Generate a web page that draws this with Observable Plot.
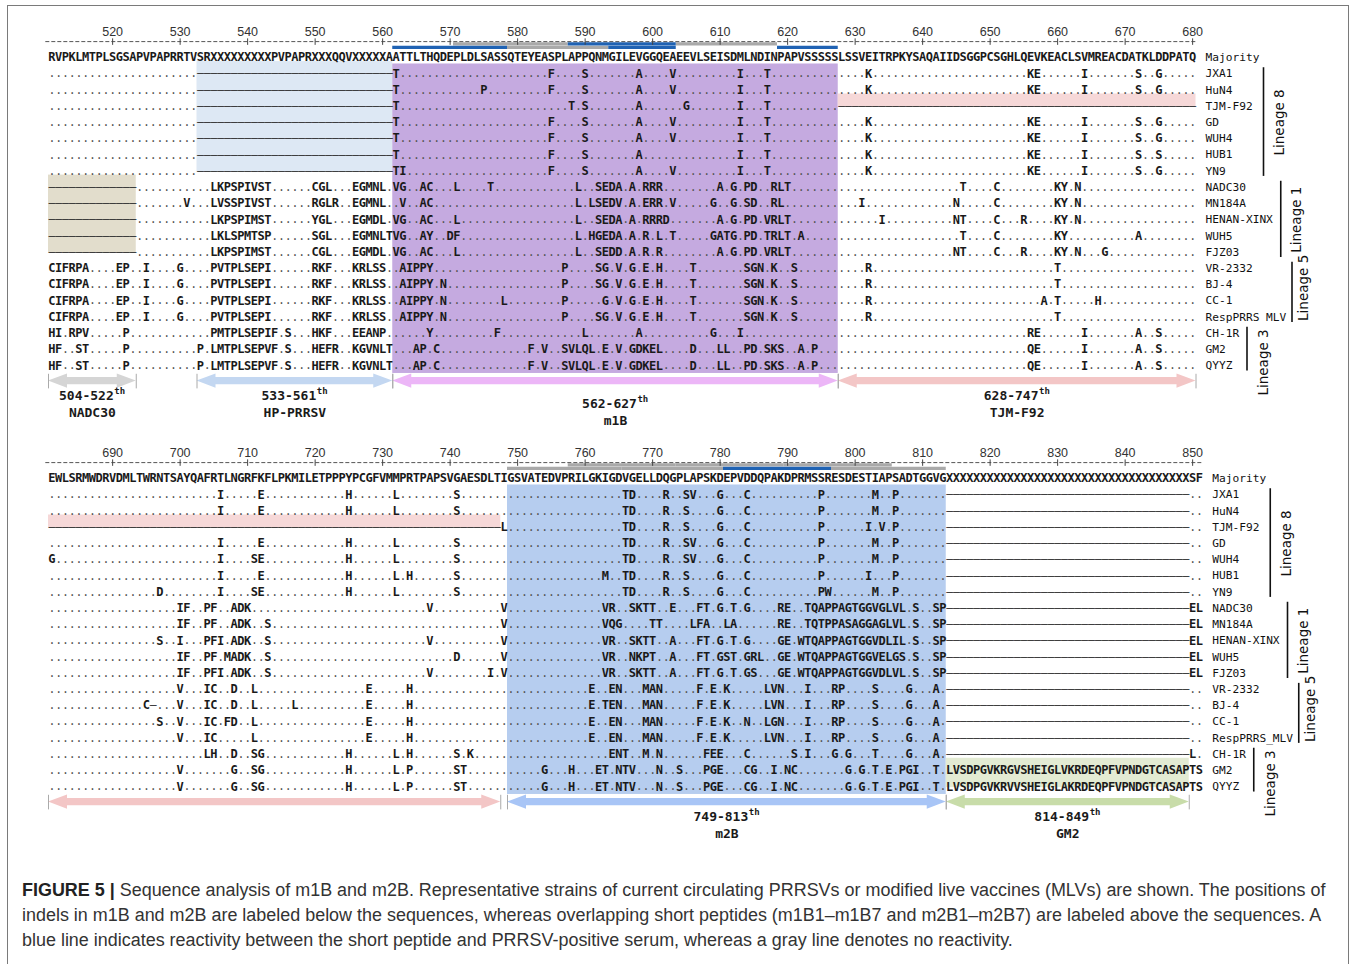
<!DOCTYPE html>
<html><head><meta charset="utf-8">
<script src="https://cdn.jsdelivr.net/npm/d3@7"></script>
<script src="https://cdn.jsdelivr.net/npm/@observablehq/plot@0.6"></script>
<style>
body{margin:0;background:#fff;}
#wrap{position:relative;width:1357px;height:964px;overflow:hidden;background:#fff;}
#frame{position:absolute;left:7px;top:5px;width:1342px;height:1100px;border:1px solid #7a7a7a;box-sizing:border-box;}
#p1{position:absolute;left:0;top:0;}
#p2{position:absolute;left:0;top:435px;}
#cap{position:absolute;left:22px;top:878px;font-family:"Liberation Sans",Arial,sans-serif;color:#333;line-height:25px;white-space:nowrap;font-size:16.5px;}
#cap b{font-weight:bold;color:#222}
</style></head><body>
<div id="wrap"><div id="frame"></div><div id="p1"></div><div id="p2"></div><div id="cap"></div></div>
<script>
// ---------------- DATA ----------------
const strains = ["Majority","JXA1","HuN4","TJM-F92","GD","WUH4","HUB1","YN9","NADC30","MN184A","HENAN-XINX","WUH5","FJZ03","VR-2332","BJ-4","CC-1","RespPRRS MLV","CH-1R","GM2","QYYZ"];
const labels1 = ["Majority","JXA1","HuN4","TJM-F92","GD","WUH4","HUB1","YN9","NADC30","MN184A","HENAN-XINX","WUH5","FJZ03","VR-2332","BJ-4","CC-1","RespPRRS MLV","CH-1R","GM2","QYYZ"];
const labels2 = ["Majority","JXA1","HuN4","TJM-F92","GD","WUH4","HUB1","YN9","NADC30","MN184A","HENAN-XINX","WUH5","FJZ03","VR-2332","BJ-4","CC-1","RespPRRS_MLV","CH-1R","GM2","QYYZ"];

const ticks1 = [520,530,540,550,560,570,580,590,600,610,620,630,640,650,660,670,680];
const ticks2 = [690,700,710,720,730,740,750,760,770,780,790,800,810,820,830,840,850];

const majority1 = "RVPKLMTPLSGSAPVPAPRRTVSRXXXXXXXXXPVPAPRXXXQQVXXXXXAATTLTHQDEPLDLSASSQTEYEASPLAPPQNMGILEVGGQEAEEVLSEISDMLNDINPAPVSSSSSLSSVEITRPKYSAQAIIDSGGPCSGHLQEVKEACLSVMREACDATKLDDPATQ";
const majority2 = "EWLSRMWDRVDMLTWRNTSAYQAFRTLNGRFKFLPKMILETPPPYPCGFVMMPRTPAPSVGAESDLTIGSVATEDVPRILGKIGDVGELLDQGPLAPSKDEPVDDQPAKDPRMSSRESDESTIAPSADTGGVG" + "XXXXXXXXXX" + "XXXXXXXXXX" + "XXXXXXXXXX" + "XXXXXX" + "SF";

// differences from the majority: "column:residues" or "from-to:-" (gap run); all other columns are "."
const diffs1 = [
 "533-561:- 562:T 585:F 590:S 598:A 603:V 613:I 617:T 632:K 656:KE 664:I 672:S 675:G",
 "533-561:- 562:T 575:P 585:F 590:S 598:A 603:V 613:I 617:T 632:K 656:KE 664:I 672:S 675:G",
 "533-561:- 562:T 588:T 590:S 598:A 605:G 613:I 617:T 628-680:-",
 "533-561:- 562:T 585:F 590:S 598:A 603:V 613:I 617:T 632:K 656:KE 664:I 672:S 675:G",
 "533-561:- 562:T 585:F 590:S 598:A 603:V 613:I 617:T 632:K 656:KE 664:I 672:S 675:G",
 "533-561:- 562:T 585:F 590:S 598:A 613:I 617:T 632:K 656:KE 664:I 672:S 675:S",
 "533-561:- 562:TI 585:F 590:S 598:A 603:V 613:I 617:T 632:K 656:KE 664:I 672:S 675:G",
 "511-523:- 535:LKPSPIVST 550:CGL 556:EGMNL 562:VG 566:AC 571:L 576:T 589:L 592:SEDA 597:A 599:RRR 610:A 612:G 614:PD 618:RLT 646:T 651:C 660:KY 663:N",
 "511-523:- 531:V 535:LVSSPIVST 550:RGLR 556:EGMNL 563:V 566:AC 589:L 591:LSEDV 597:A 599:ERR 603:V 609:G 612:G 614:SD 618:RL 631:I 645:N 651:C 660:KY 663:N",
 "511-523:- 535:LKPSPIMST 550:YGL 556:EGMDL 562:VG 566:AC 571:L 589:L 592:SEDA 597:A 599:RRRD 610:A 612:G 614:PD 617:VRLT 634:I 645:NT 651:C 655:R 660:KY 663:N",
 "511-523:- 535:LKLSPMTSP 550:SGL 556:EGMNLT 562:VG 566:AY 570:DF 589:L 591:HGEDA 597:A 599:R 601:L 603:T 609:GATG 614:PD 617:TRLT 622:A 646:T 651:C 660:KY 672:A",
 "511-523:- 535:LKPSPIMST 550:CGL 556:EGMDL 562:VG 566:AC 571:L 589:L 592:SEDD 597:A 599:R 601:R 610:A 612:G 614:PD 617:VRLT 645:NT 651:C 655:R 660:KY 663:N 667:G",
 "511:CIFRPA 521:EP 525:I 530:G 535:PVTPLSEPI 550:RKF 556:KRLSS 563:AIPPY 587:P 592:SG 595:V 597:G 599:E 601:H 606:T 614:SGN 618:K 621:S 632:R 660:T",
 "511:CIFRPA 521:EP 525:I 530:G 535:PVTPLSEPI 550:RKF 556:KRLSS 563:AIPPY 569:N 587:P 592:SG 595:V 597:G 599:E 601:H 606:T 614:SGN 618:K 621:S 632:R 660:T",
 "511:CIFRPA 521:EP 525:I 530:G 535:PVTPLSEPI 550:RKF 556:KRLSS 563:AIPPY 569:N 578:L 587:P 593:G 595:V 597:G 599:E 601:H 606:T 614:SGN 618:K 621:S 632:R 658:A 660:T 666:H",
 "511:CIFRPA 521:EP 525:I 530:G 535:PVTPLSEPI 550:RKF 556:KRLSS 563:AIPPY 569:N 587:P 592:SG 595:V 597:G 599:E 601:H 606:T 614:SGN 618:K 621:S 632:R 660:T",
 "511:HI 514:RPV 522:P 535:PMTPLSEPIF 546:S 550:HKF 556:EEANP 567:Y 577:F 590:L 598:A 609:G 613:I 656:RE 664:I 672:A 675:S",
 "511:HF 515:ST 522:P 533:P 535:LMTPLSEPVF 546:S 550:HEFR 556:KGVNLT 565:AP 568:C 582:F 584:V 587:SVLQL 593:E 595:V 597:GDKEL 606:D 610:LL 614:PD 617:SKS 622:A 624:P 656:QE 664:I 672:A 675:S",
 "511:HF 515:ST 522:P 533:P 535:LMTPLSEPVF 546:S 550:HEFR 556:KGVNLT 565:AP 568:C 582:F 584:V 587:SVLQL 593:E 595:V 597:GDKEL 606:D 610:LL 614:PD 617:SKS 622:A 624:P 656:QE 664:I 672:A 675:S"
];
const diffs2 = [
 "706:I 712:E 725:H 732:L 741:S 766:TD 772:R 775:SV 780:G 784:C 795:P 803:M 806:P 814-849:-",
 "706:I 712:E 725:H 732:L 741:S 766:TD 772:R 775:S 780:G 784:C 795:P 803:M 806:P 814-849:-",
 "681-747:- 748:L 766:TD 772:R 775:S 780:G 784:C 795:P 802:I 804:V 806:P 814-849:-",
 "706:I 712:E 725:H 732:L 741:S 766:TD 772:R 775:SV 780:G 784:C 795:P 803:M 806:P 814-849:-",
 "681:G 706:I 711:SE 725:H 732:L 741:S 766:TD 772:R 775:SV 780:G 784:C 795:P 803:M 806:P 814-849:-",
 "706:I 712:E 725:H 732:L 734:H 741:S 763:M 766:TD 772:R 775:S 780:G 784:C 795:P 802:I 806:P 814-849:-",
 "697:D 706:I 711:SE 725:H 732:L 741:S 766:TD 772:R 775:S 780:G 784:C 795:PW 803:M 806:P 814-849:-",
 "700:IF 704:PF 708:ADK 737:V 748:V 763:VR 767:SKTT 773:E 777:FT 780:G 782:T 784:G 789:RE 793:TQAPPAGTGGVGLVL 809:S 812:SP 814-849:- 850:EL",
 "700:IF 704:PF 708:ADK 713:S 748:V 763:VQG 770:TT 776:LFA 781:LA 789:RE 793:TQTPPASAGGAGLVL 809:S 812:SP 814-849:- 850:EL",
 "697:S 700:I 704:PFI 708:ADK 713:S 737:V 748:V 763:VR 767:SKTT 773:A 777:FT 780:G 782:T 784:G 789:GE 792:WTQAPPAGTGGVDLIL 809:S 812:SP 814-849:- 850:EL",
 "700:IF 704:PF 707:MADK 713:S 741:D 748:V 763:VR 767:NKPT 773:A 777:FT 780:GST 784:GRL 789:GE 792:WTQAPPAGTGGVELGS 809:S 812:SP 814-849:- 850:EL",
 "700:IF 704:PFI 708:ADK 713:S 737:V 746:I 748:V 763:VR 767:SKTT 773:A 777:FT 780:G 782:T 784:GS 789:GE 792:WTQAPPAGTGGVDLVL 809:S 812:SP 814-849:- 850:EL",
 "700:V 704:IC 708:D 711:L 728:E 734:H 761:E 764:EN 769:MAN 777:F 779:E 781:K 787:LVN 793:I 797:RP 803:S 808:G 812:A 814-849:-",
 "695:C- 700:V 704:IC 708:D 711:L 717:L 728:E 734:H 761:E 763:TEN 769:MAN 777:F 779:E 781:K 787:LVN 793:I 797:RP 803:S 808:G 812:A 814-849:-",
 "697:S 700:V 704:IC 707:FD 711:L 728:E 734:H 761:E 764:EN 769:MAN 777:F 779:E 781:K 784:N 787:LGN 793:I 797:RP 803:S 808:G 812:A 814-849:-",
 "700:V 704:IC 711:L 728:E 734:H 761:E 764:EN 769:MAN 777:F 779:E 781:K 787:LVN 793:I 797:RP 803:S 808:G 812:A 814-849:-",
 "704:LH 708:D 711:SG 725:H 732:L 734:H 741:S 743:K 764:ENT 769:M 771:N 778:FEE 784:C 791:S 793:I 797:G 799:G 803:T 808:G 812:A 814-849:- 850:L",
 "700:V 708:G 711:SG 725:H 732:L 734:P 741:ST 754:G 758:H 762:ET 765:NTV 771:N 774:S 778:PGE 784:CG 788:I 790:NC 799:G 801:G 803:T 805:E 807:PGI 812:T 814:LVSDPGVKRGVSHEIGLVKRDEQPFVPNDGTCASAP 850:TS",
 "700:V 708:G 711:SG 725:H 732:L 734:P 741:ST 754:G 758:H 762:ET 765:NTV 771:N 774:S 778:PGE 784:CG 788:I 790:NC 799:G 801:G 803:T 805:E 807:PGI 812:T 814:LVSDPGVKRVVSHEIGLAKRDEQPFVPNDGTCASAP 850:TS"
];

// shaded regions (columns, strains)
const regions1 = [
 {name:"hp", first:533, last:561, from:"JXA1", to:"YN9", kind:"indel"},
 {name:"nadc", first:511, last:523, from:"NADC30", to:"FJZ03", kind:"indel"},
 {name:"m1B", first:562, last:627, from:"JXA1", to:"QYYZ", kind:"domain"},
 {name:"tjm", first:628, last:680, from:"TJM-F92", to:"TJM-F92", kind:"indel"}
];
const regions2 = [
 {name:"tjm", first:681, last:747, from:"TJM-F92", to:"TJM-F92", kind:"indel"},
 {name:"m2B", first:749, last:813, from:"JXA1", to:"QYYZ", kind:"domain"},
 {name:"gm2", first:814, last:849, from:"GM2", to:"QYYZ", kind:"indel"}
];
// overlapping short peptides
const peptides1 = [
 {id:"m1B1", from:562, to:578, level:"lower", reactive:true},
 {id:"m1B2", from:571, to:587, level:"upper", reactive:false},
 {id:"m1B3", from:579, to:593, level:"lower", reactive:false},
 {id:"m1B4", from:588, to:603, level:"upper", reactive:true},
 {id:"m1B5", from:594, to:603, level:"lower", reactive:true},
 {id:"m1B6", from:604, to:618, level:"upper", reactive:false},
 {id:"m1B7", from:619, to:627, level:"lower", reactive:true}
];
const peptides2 = [
 {id:"m2B1", from:749, to:765, level:"lower", reactive:false},
 {id:"m2B2", from:758, to:773, level:"upper", reactive:false},
 {id:"m2B3", from:766, to:780, level:"lower", reactive:false},
 {id:"m2B4", from:774, to:789, level:"upper", reactive:false},
 {id:"m2B5", from:781, to:796, level:"lower", reactive:true},
 {id:"m2B6", from:790, to:805, level:"upper", reactive:false},
 {id:"m2B7", from:797, to:813, level:"lower", reactive:false}
];
// indel arrows below the sequences
const arrows1 = [
 {name:"nadc", first:511, last:523, range:"504-522", label:"NADC30"},
 {name:"hp", first:533, last:561, range:"533-561", label:"HP-PRRSV"},
 {name:"m1B", first:562, last:627, range:"562-627", label:"m1B"},
 {name:"tjm", first:628, last:680, range:"628-747", label:"TJM-F92"}
];
const arrows2 = [
 {name:"tjm", first:681, last:747, range:null, label:null},
 {name:"m2B", first:749, last:813, range:"749-813", label:"m2B"},
 {name:"gm2", first:814, last:849, range:"814-849", label:"GM2"}
];
const lineages = [
 {name:"Lineage 8", from:"JXA1", to:"YN9"},
 {name:"Lineage 1", from:"NADC30", to:"FJZ03"},
 {name:"Lineage 5", from:"VR-2332", to:"RespPRRS MLV"},
 {name:"Lineage 3", from:"CH-1R", to:"QYYZ"}
];
const captionLines = [
 ["FIGURE 5 |", " Sequence analysis of m1B and m2B. Representative strains of current circulating PRRSVs or modified live vaccines (MLVs) are shown. The positions of"],
 ["", "indels in m1B and m2B are labeled below the sequences, whereas overlapping short peptides (m1B1\u2013m1B7 and m2B1\u2013m2B7) are labeled above the sequences. A"],
 ["", "blue line indicates reactivity between the short peptide and PRRSV-positive serum, whereas a gray line denotes no reactivity."]
];

// ---------------- STYLE ----------------
const regionFill = {hp:"#dde8f4", nadc:"#e2ddcc", m1B:"#c5aae0", tjm:"#f6d8d8", m2B:"#b6cdef", gm2:"#e3ebd3"};
const arrowFill = {nadc:"#d5d5d5", hp:"#c3d7f1", m1B:"#ecb6f7", tjm:"#f3c6c6", m2B:"#a8c5f6", gm2:"#c8dca9"};
const pepColor = {true:"#1f62b3", false:"#a9a9a9"};
const lineageLayout = {"Lineage 8":{line:67.5,text:83.5,shift:0}, "Lineage 1":{line:84.75,text:101,shift:0}, "Lineage 5":{line:96,text:107.5,shift:-0.3}, "Lineage 3":{line:51,text:67.5,shift:0.8}};
const W = 1357, H = 435, PITCH = 6.75, LEFT = 48, STEP = 16.22;
const MONO = "DejaVu Sans Mono, Liberation Mono, monospace";

function expand(spec) {
  const out = [];
  for (const tok of spec.trim().split(/\s+/)) {
    const k = tok.indexOf(":");
    const pos = tok.slice(0, k), txt = tok.slice(k + 1);
    if (pos.includes("-")) {
      const [a, b] = pos.split("-").map(Number);
      for (let c = a; c <= b; c++) out.push([c, txt]);
    } else {
      const a = +pos;
      [...txt].forEach((ch, i) => out.push([a + i, ch]));
    }
  }
  return out;
}

function panel({start, majority, diffs, labels, regions, peptides, arrows, ticks, y0, shiftLabel}) {
  const end = start + majority.length - 1;
  const rowOf = name => strains.indexOf(name);
  const last = strains.length - 1;
  const chars = [];
  [...majority].forEach((ch, i) => chars.push({row: 0, col: start + i, ch}));
  diffs.forEach((spec, k) => {
    const row = k + 1;
    const m = new Map();
    for (let c = start; c <= end; c++) m.set(c, ".");
    for (const [c, ch] of expand(spec)) if (c >= start && c <= end) m.set(c, ch);
    for (const [c, ch] of m) chars.push({row, col: c, ch});
  });
  const letters = chars.filter(d => /[A-Z]/.test(d.ch));
  const dots = chars.filter(d => d.ch === ".");
  const gaps = chars.filter(d => d.ch === "-");

  const xDomain = [start - 0.5 - LEFT / PITCH, start - 0.5 + (W - LEFT) / PITCH];
  const edge = end + 0.5;
  const axisY = -0.98, upperY = -0.84, lowerY = -0.63, tickLabY = -1.57;
  const arrowY = last + 0.95;

  const L = 19 / PITCH, hh = 0.44, ww = 0.22;
  const heads = [];
  arrows.forEach(a => {
    const x0 = a.first - 0.5, x1 = a.last + 0.5, c = arrowY, f = arrowFill[a.name];
    [[x0, c, c], [x0 + L, c - hh, c + hh], [x0 + L, c - ww, c + ww], [x1 - L, c - ww, c + ww], [x1 - L, c - hh, c + hh], [x1, c, c]]
      .forEach(([x, y1, y2]) => heads.push({id: a.name, x, y1, y2, fill: f}));
  });
  const ends = arrows.flatMap(a => [a.first - 0.5, a.last + 0.5]);
  const labeled = arrows.filter(a => a.range);
  const numW = 7 * 0.602 * 13;

  const marks = [
    Plot.rect(regions, {
      x1: d => d.first - 0.5, x2: d => d.last + 0.5,
      y1: d => rowOf(d.from) - (d.kind === "indel" ? 0.75 : 0.6),
      y2: d => rowOf(d.to) + (d.kind === "indel" ? 0.06 : 0.48),
      fill: d => regionFill[d.name]
    }),
    Plot.ruleY(peptides.filter(d => !d.reactive), {y: d => d.level === "upper" ? upperY : lowerY, x1: d => d.from - 0.5, x2: d => d.to + 0.5, stroke: d => pepColor[d.reactive], strokeWidth: 3.3}),
    Plot.ruleY(peptides.filter(d => d.reactive), {y: d => d.level === "upper" ? upperY : lowerY, x1: d => d.from - 0.5, x2: d => d.to + 0.5, stroke: d => pepColor[d.reactive], strokeWidth: 3.3}),
    Plot.ruleY([axisY], {y: d => d, x1: () => start - 0.9, x2: () => edge, stroke: "#555", strokeWidth: 1, strokeDasharray: "4,2"}),
    Plot.link(ticks, {x1: d => d, x2: d => d, y1: () => axisY - 0.2, y2: () => axisY + 0.2, stroke: "#444", strokeWidth: 1}),
    Plot.text(ticks, {x: d => d, y: () => tickLabY, text: d => String(d), fontSize: 12.5, fontFamily: "Liberation Sans, Arial, sans-serif", fill: "#333"}),
    Plot.text(gaps, {x: "col", y: "row", text: () => "\u2013", fontSize: 11.5, fontFamily: MONO, fill: "#333"}),
    Plot.text(dots, {x: "col", y: "row", text: () => ".", fontSize: 11.5, fontFamily: MONO, fill: "#555"}),
    Plot.text(letters, {x: "col", y: "row", text: "ch", fontSize: 12, fontFamily: MONO, fontWeight: "bold", fill: "#1a1a1a"}),
    Plot.text(labels.map((t, i) => ({t, i})), {x: () => edge, y: "i", text: "t", dx: 9.5, textAnchor: "start", fontSize: 11.2, fontFamily: MONO, fill: "#111"}),
    ...lineages.map(l => Plot.link([l], {x1: () => edge, x2: () => edge, y1: d => rowOf(d.from) - 0.4, y2: d => rowOf(d.to) + 0.3, dx: lineageLayout[l.name].line, stroke: "#111", strokeWidth: 1.6})),
    ...lineages.map(l => Plot.text([l], {x: () => edge, y: d => (rowOf(d.from) + rowOf(d.to)) / 2 + lineageLayout[l.name].shift, text: "name", rotate: -90, dx: lineageLayout[l.name].text, fontSize: 13.5, fontFamily: "DejaVu Sans, sans-serif", fill: "#111"})),
    Plot.areaY(heads, {x: "x", y1: "y1", y2: "y2", z: "id", fill: "fill", curve: "linear"}),
    Plot.link(ends, {x1: d => d, x2: d => d, y1: () => arrowY - 0.45, y2: () => arrowY + 0.45, stroke: "#aaa", strokeWidth: 1}),
    ...labeled.map(a => {
      const s = shiftLabel[a.name] || 0;
      return [
        Plot.text([a], {x: d => (d.first + d.last) / 2, y: () => arrowY + 0.92 + s, text: "range", dx: -6, fontSize: 13, fontFamily: MONO, fontWeight: "bold", fill: "#1a1a1a"}),
        Plot.text([a], {x: d => (d.first + d.last) / 2, y: () => arrowY + 0.92 + s, text: () => "th", textAnchor: "start", dx: numW / 2 - 5.5, dy: -5, fontSize: 9, fontFamily: MONO, fontWeight: "bold", fill: "#1a1a1a"}),
        Plot.text([a], {x: d => (d.first + d.last) / 2, y: () => arrowY + 1.98 + s, text: "label", fontSize: 13, fontFamily: MONO, fontWeight: "bold", fill: "#1a1a1a"})
      ];
    }).flat()
  ];

  return Plot.plot({
    width: W, height: H, margin: 0,
    x: {domain: xDomain, range: [0, W], axis: null},
    y: {domain: [0, last], range: [y0, y0 + last * STEP], axis: null},
    color: {type: "identity"},
    style: {background: "transparent", overflow: "visible"},
    marks
  });
}

document.getElementById("p1").appendChild(panel({
  start: 511, majority: majority1, diffs: diffs1, labels: labels1, regions: regions1,
  peptides: peptides1, arrows: arrows1, ticks: ticks1, y0: 57, shiftLabel: {m1B: 0.5}
}));
document.getElementById("p2").appendChild(panel({
  start: 681, majority: majority2, diffs: diffs2, labels: labels2, regions: regions2,
  peptides: peptides2, arrows: arrows2, ticks: ticks2, y0: 43, shiftLabel: {}
}));

// caption
const cap = document.getElementById("cap");
captionLines.forEach(([b, t]) => {
  const div = document.createElement("div");
  if (b) { const bb = document.createElement("b"); bb.textContent = b; div.appendChild(bb); }
  div.appendChild(document.createTextNode(t));
  div.style.display = "inline-block";
  cap.appendChild(div);
  cap.appendChild(document.createElement("br"));
});
const w0 = cap.firstChild.getBoundingClientRect().width;
if (w0 > 0) cap.style.fontSize = (16.5 * 1305 / w0).toFixed(2) + "px";
</script></body></html>
